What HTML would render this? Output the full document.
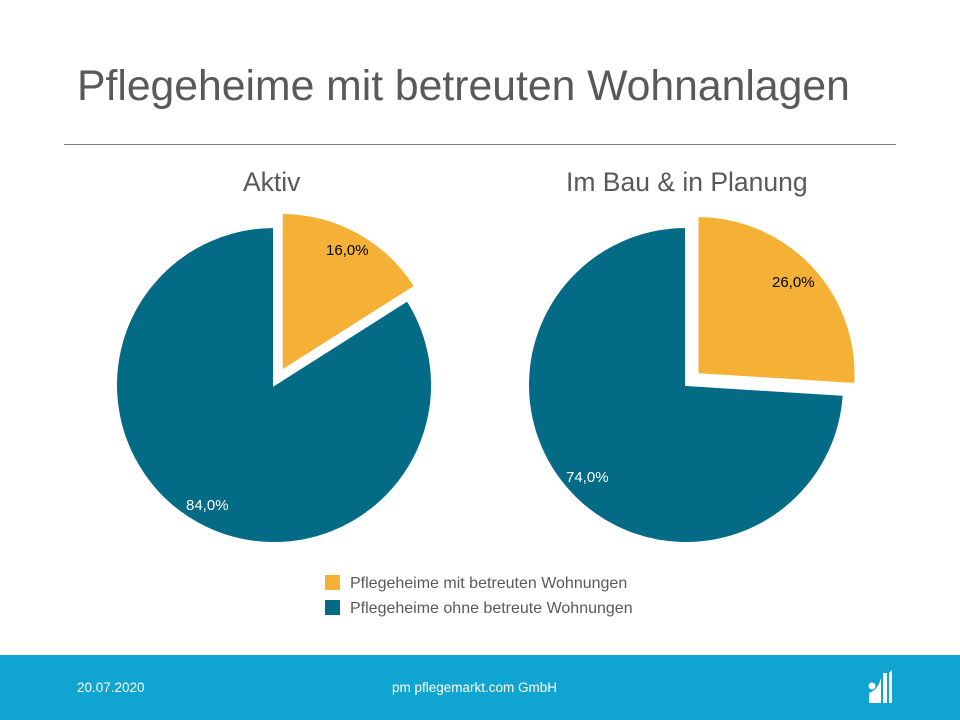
<!DOCTYPE html>
<html><head><style>
body{margin:0;width:960px;height:720px;background:#fff;position:relative;font-family:"Liberation Sans",sans-serif;overflow:hidden}
.t{position:absolute;white-space:nowrap}
</style></head><body>
<div class="t" style="left:77px;top:62px;font-size:42.7px;color:#595959">Pflegeheime mit betreuten Wohnanlagen</div>
<div style="position:absolute;left:64px;top:144px;width:832px;height:1px;background:#7f7f7f"></div>
<div class="t" style="left:243px;top:167px;font-size:26.5px;color:#595959">Aktiv</div>
<div class="t" style="left:566px;top:167px;font-size:26.5px;color:#595959">Im Bau &amp; in Planung</div>
<svg style="position:absolute;left:0;top:0" width="960" height="720">
<path d="M274,385 L407.4,300.3 A158 158 0 1 1 274,227 Z" fill="#036b85" stroke="#fff" stroke-width="2"/>
<path d="M281.7,371 L281.7,213 A158 158 0 0 1 415.1,286.3 Z" fill="#f5b135" stroke="#fff" stroke-width="2"/>
<path d="M686,385 L843.7,394.9 A158 158 0 1 1 686,227 Z" fill="#036b85" stroke="#fff" stroke-width="2"/>
<path d="M697.5,374.1 L697.5,216.1 A158 158 0 0 1 855.2,384 Z" fill="#f5b135" stroke="#fff" stroke-width="2"/>
<g font-size="15" font-family="Liberation Sans,sans-serif">
<text x="326" y="255" fill="#000">16,0%</text>
<text x="186" y="510" fill="#fff">84,0%</text>
<text x="772" y="287" fill="#000">26,0%</text>
<text x="566" y="482" fill="#fff">74,0%</text>
</g>
<rect x="325" y="575" width="15" height="15" fill="#f5b135"/>
<rect x="325" y="600" width="15" height="15" fill="#036b85"/>
<text x="350" y="588" font-size="16" fill="#595959" font-family="Liberation Sans,sans-serif">Pflegeheime mit betreuten Wohnungen</text>
<text x="350" y="613" font-size="16" fill="#595959" font-family="Liberation Sans,sans-serif">Pflegeheime ohne betreute Wohnungen</text>
<rect x="0" y="655" width="960" height="65" fill="#10a5d0"/>
<text x="77" y="692" font-size="13.5" fill="#fff" font-family="Liberation Sans,sans-serif">20.07.2020</text>
<text x="392" y="692" font-size="13.5" fill="#fff" font-family="Liberation Sans,sans-serif">pm pflegemarkt.com GmbH</text>
<circle cx="872" cy="686" r="3.5" fill="#fff"/>
<path d="M869,703 L869,693 Q878,690 881,678 L881,703 Z" fill="#fff"/>
<rect x="883" y="673" width="4" height="30" fill="#fff"/>
<path d="M889,673 L892,670 L892,703 L889,703 Z" fill="#fff"/>
</svg>
</body></html>
